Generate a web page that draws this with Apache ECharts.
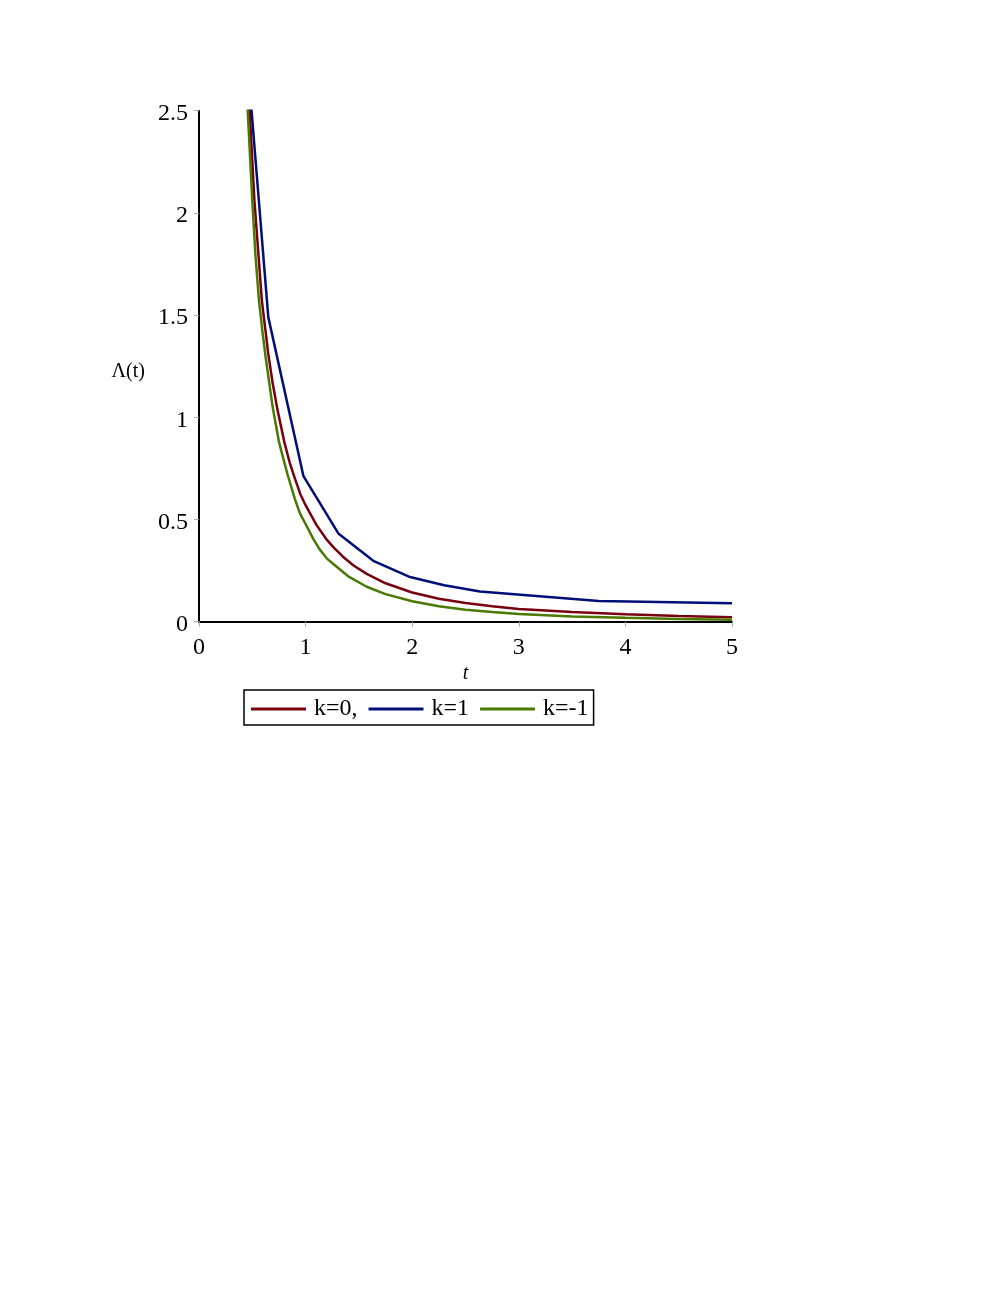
<!DOCTYPE html>
<html>
<head>
<meta charset="utf-8">
<script src="https://cdn.jsdelivr.net/npm/echarts@6/dist/echarts.min.js"></script>
<style>
  html, body { margin: 0; padding: 0; background: #fff; }
  #chart { width: 997px; height: 1290px; }
</style>
</head>
<body>
<div id="chart"></div>
<script>
// Data
const seriesNames = ['k=0,', 'k=1', 'k=-1'];
const xTicks = [0, 1, 2, 3, 4, 5];
const yTicks = [0, 0.5, 1, 1.5, 2, 2.5];

const tRed = [0.45, 0.475, 0.52, 0.55, 0.59, 0.62, 0.65, 0.69, 0.735, 0.80, 0.85, 0.90, 0.95, 1.0, 1.1, 1.2, 1.26, 1.35, 1.45, 1.573, 1.75, 2.0, 2.25, 2.5, 2.75, 3.0, 3.5, 4.0, 4.5, 5.0];
const vRed = [2.78, 2.5, 2.06, 1.85, 1.57, 1.44, 1.31, 1.17, 1.04, 0.88, 0.78, 0.70, 0.625, 0.57, 0.475, 0.40, 0.365, 0.318, 0.275, 0.234, 0.188, 0.143, 0.112, 0.091, 0.076, 0.062, 0.047, 0.036, 0.028, 0.022];

const tBlue = [0.33, 0.65, 0.98, 1.307, 1.635, 1.97, 2.30, 2.636, 3.75, 5.0];
const vBlue = [3.55, 1.49, 0.712, 0.432, 0.298, 0.220, 0.178, 0.148, 0.101, 0.090];

const tGreen = [0.44, 0.457, 0.50, 0.53, 0.563, 0.595, 0.625, 0.66, 0.691, 0.75, 0.828, 0.90, 0.947, 1.0, 1.072, 1.13, 1.198, 1.26, 1.4, 1.573, 1.75, 2.0, 2.25, 2.5, 2.75, 3.0, 3.5, 4.0, 4.5, 5.0];
const vGreen = [2.75, 2.5, 2.06, 1.79, 1.57, 1.42, 1.295, 1.165, 1.05, 0.88, 0.725, 0.60, 0.53, 0.478, 0.405, 0.355, 0.31, 0.282, 0.222, 0.171, 0.135, 0.100, 0.076, 0.059, 0.048, 0.038, 0.026, 0.019, 0.013, 0.009];

const colors = ['#78000E', '#000E78', '#4A7800'];

function pairs(ts, vs) { return ts.map((t, i) => [t, vs[i]]); }

const font = 'Liberation Serif';
const chart = echarts.init(document.getElementById('chart'));
chart.setOption({
  animation: false,
  backgroundColor: '#ffffff',
  color: colors,
  grid: { left: 199, right: 265, top: 110.7, bottom: 668.3, containLabel: false },
  legend: {
    left: 244, top: 690,
    orient: 'horizontal',
    data: seriesNames,
    icon: 'rect',
    itemWidth: 55, itemHeight: 3,
    itemGap: 11,
    padding: [7, 5, 4, 7],
    borderColor: '#000', borderWidth: 1.5,
    textStyle: { fontFamily: font, fontSize: 24, color: '#000', padding: [0, 0, 0, 3] }
  },
  xAxis: {
    type: 'value', min: xTicks[0], max: xTicks[xTicks.length - 1], interval: 1,
    name: 't', nameLocation: 'middle', nameGap: 42,
    nameTextStyle: { fontFamily: font, fontSize: 20, fontStyle: 'italic', color: '#000' },
    axisLine: { show: true, lineStyle: { color: '#000', width: 2 } },
    axisTick: { show: true, length: 5, lineStyle: { color: '#aaa', width: 1 } },
    axisLabel: { fontFamily: font, fontSize: 24, color: '#000', margin: 14 },
    splitLine: { show: false }
  },
  yAxis: {
    type: 'value', min: yTicks[0], max: yTicks[yTicks.length - 1], interval: 0.5,
    name: '{a|Λ(t)}', nameLocation: 'middle', nameGap: 54, nameRotate: 0,
    nameTextStyle: { fontFamily: font, fontSize: 20, color: '#000',
      rich: { a: { fontFamily: font, fontSize: 20, color: '#000', padding: [12, 0, 0, 0] } } },
    axisLine: { show: true, lineStyle: { color: '#000', width: 2 } },
    axisTick: { show: true, length: 5, lineStyle: { color: '#aaa', width: 1 } },
    axisLabel: { fontFamily: font, fontSize: 24, color: '#000', margin: 11,
      formatter: '{a|{value}}',
      rich: { a: { fontFamily: font, fontSize: 24, color: '#000', padding: [6, 0, 0, 0] } } },
    splitLine: { show: false }
  },
  series: [
    { name: seriesNames[0], type: 'line', data: pairs(tRed, vRed), showSymbol: false, symbol: 'none',
      smooth: false, clip: true, lineStyle: { width: 2.5, color: colors[0] } },
    { name: seriesNames[1], type: 'line', data: pairs(tBlue, vBlue), showSymbol: false, symbol: 'none',
      smooth: false, clip: true, lineStyle: { width: 2.5, color: colors[1] } },
    { name: seriesNames[2], type: 'line', data: pairs(tGreen, vGreen), showSymbol: false, symbol: 'none',
      smooth: false, clip: true, lineStyle: { width: 2.5, color: colors[2] } }
  ]
});
</script>
</body>
</html>
